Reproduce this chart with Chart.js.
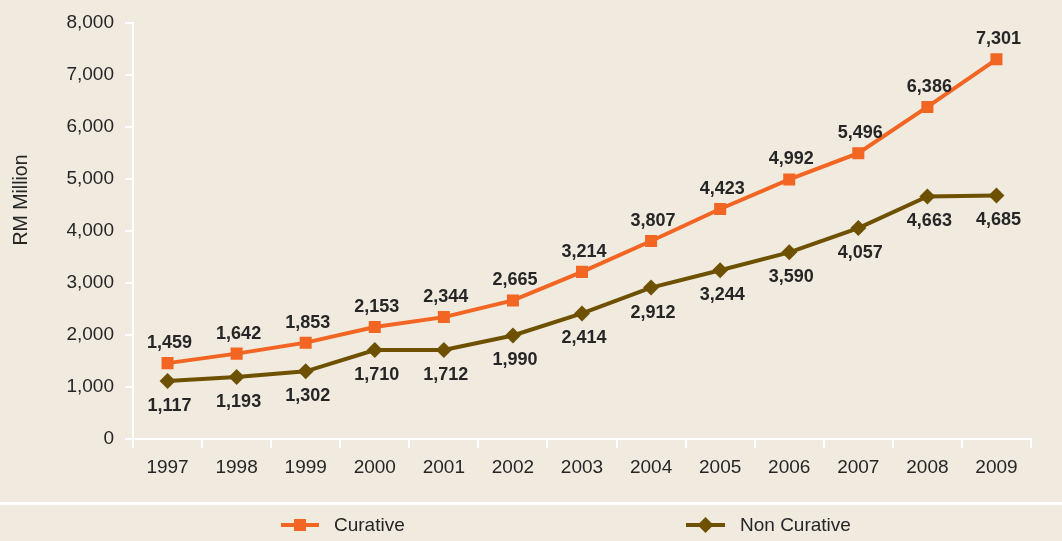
<!DOCTYPE html>
<html>
<head>
<meta charset="utf-8">
<script src="https://cdn.jsdelivr.net/npm/chart.js@4"></script>
<style>
  html, body { margin: 0; padding: 0; background: #f0eadf; }
  #wrap { width: 1062px; height: 541px; }
</style>
</head>
<body>
<div id="wrap"><canvas id="c" width="1062" height="541"></canvas></div>
<script>
// Healthcare expenditure, RM million
const years = ['1997','1998','1999','2000','2001','2002','2003','2004','2005','2006','2007','2008','2009'];
const curative = [1459, 1642, 1853, 2153, 2344, 2665, 3214, 3807, 4423, 4992, 5496, 6386, 7301];
const nonCurative = [1117, 1193, 1302, 1710, 1712, 1990, 2414, 2912, 3244, 3590, 4057, 4663, 4685];
const yTicks = [0, 1000, 2000, 3000, 4000, 5000, 6000, 7000, 8000];
const seriesNames = ['Curative', 'Non Curative'];
const axisTitle = 'RM Million';

const ORANGE = '#f26522';
const BROWN = '#6e5100';
const TEXT = '#262626';
const FONT = '"Liberation Sans", Arial, Helvetica, sans-serif';
const fmt = v => Number(v).toLocaleString('en-US');

// value labels: curative above the point, non curative below
const valueLabels = {
  id: 'valueLabels',
  afterDatasetsDraw(chart) {
    const ctx = chart.ctx;
    ctx.save();
    ctx.font = 'bold 18px ' + FONT;
    ctx.fillStyle = TEXT;
    ctx.textAlign = 'center';
    ctx.textBaseline = 'middle';
    chart.data.datasets.forEach((ds, i) => {
      const meta = chart.getDatasetMeta(i);
      meta.data.forEach((pt, j) => {
        const dy = i === 0 ? -20 : 25;
        ctx.fillText(fmt(ds.data[j]), pt.x + 2, pt.y + dy);
      });
    });
    ctx.restore();
  }
};

// axis title, separator rule and the legend strip under the chart
const decorations = {
  id: 'decorations',
  afterDraw(chart) {
    const ctx = chart.ctx;
    ctx.save();
    // y axis title
    ctx.fillStyle = TEXT;
    ctx.font = '19.5px ' + FONT;
    ctx.textAlign = 'center';
    ctx.textBaseline = 'middle';
    ctx.translate(22, 200);
    ctx.rotate(-Math.PI / 2);
    ctx.fillText(axisTitle, 0, 0);
    ctx.restore();

    ctx.save();
    // white separator
    ctx.strokeStyle = '#ffffff';
    ctx.lineWidth = 3;
    ctx.beginPath();
    ctx.moveTo(0, 503.5);
    ctx.lineTo(chart.width, 503.5);
    ctx.stroke();

    const items = [
      { x0: 281, x1: 319, text: seriesNames[0], tx: 334, color: ORANGE, shape: 'square' },
      { x0: 686, x1: 725, text: seriesNames[1], tx: 740, color: BROWN, shape: 'diamond' }
    ];
    const ly = 525;
    items.forEach(it => {
      ctx.strokeStyle = it.color;
      ctx.fillStyle = it.color;
      ctx.lineWidth = 4;
      ctx.beginPath();
      ctx.moveTo(it.x0, ly);
      ctx.lineTo(it.x1, ly);
      ctx.stroke();
      const cx = (it.x0 + it.x1) / 2;
      ctx.beginPath();
      if (it.shape === 'square') {
        ctx.rect(cx - 6, ly - 6, 12, 12);
      } else {
        ctx.moveTo(cx, ly - 8);
        ctx.lineTo(cx + 8, ly);
        ctx.lineTo(cx, ly + 8);
        ctx.lineTo(cx - 8, ly);
        ctx.closePath();
      }
      ctx.fill();
      ctx.fillStyle = TEXT;
      ctx.font = '19px ' + FONT;
      ctx.textAlign = 'left';
      ctx.textBaseline = 'middle';
      ctx.fillText(it.text, it.tx, ly + 1);
    });
    ctx.restore();
  }
};

new Chart(document.getElementById('c'), {
  type: 'line',
  data: {
    labels: years,
    datasets: [
      {
        label: seriesNames[0],
        data: curative,
        borderColor: ORANGE,
        backgroundColor: ORANGE,
        borderWidth: 4,
        pointStyle: 'rect',
        pointRadius: 8.5,
        pointBorderWidth: 0,
        tension: 0
      },
      {
        label: seriesNames[1],
        data: nonCurative,
        borderColor: BROWN,
        backgroundColor: BROWN,
        borderWidth: 4,
        pointStyle: 'rectRot',
        pointRadius: 8,
        pointBorderWidth: 0,
        tension: 0
      }
    ]
  },
  options: {
    responsive: false,
    animation: false,
    layout: { padding: { left: 0, right: 31, top: 23, bottom: 55 } },
    plugins: {
      legend: { display: false },
      tooltip: { enabled: false }
    },
    scales: {
      x: {
        type: 'category',
        offset: true,
        grid: {
          offset: true,
          drawOnChartArea: false,
          drawTicks: true,
          tickLength: 9,
          color: '#ffffff',
          lineWidth: 2
        },
        border: { color: '#ffffff', width: 2 },
        ticks: {
          color: TEXT,
          font: { family: FONT, size: 19 },
          padding: 8,
          maxRotation: 0
        },
        afterFit(scale) { scale.height = 47; }
      },
      y: {
        min: 0,
        max: 8000,
        afterBuildTicks(scale) { scale.ticks = yTicks.map(v => ({ value: v })); },
        grid: {
          drawOnChartArea: false,
          drawTicks: true,
          tickLength: 8,
          color: '#ffffff',
          lineWidth: 2
        },
        border: { color: '#ffffff', width: 2 },
        ticks: {
          color: TEXT,
          font: { family: FONT, size: 19 },
          padding: 11,
          callback: v => fmt(v)
        },
        afterFit(scale) { scale.width = 133; }
      }
    }
  },
  plugins: [valueLabels, decorations]
});
</script>
</body>
</html>
